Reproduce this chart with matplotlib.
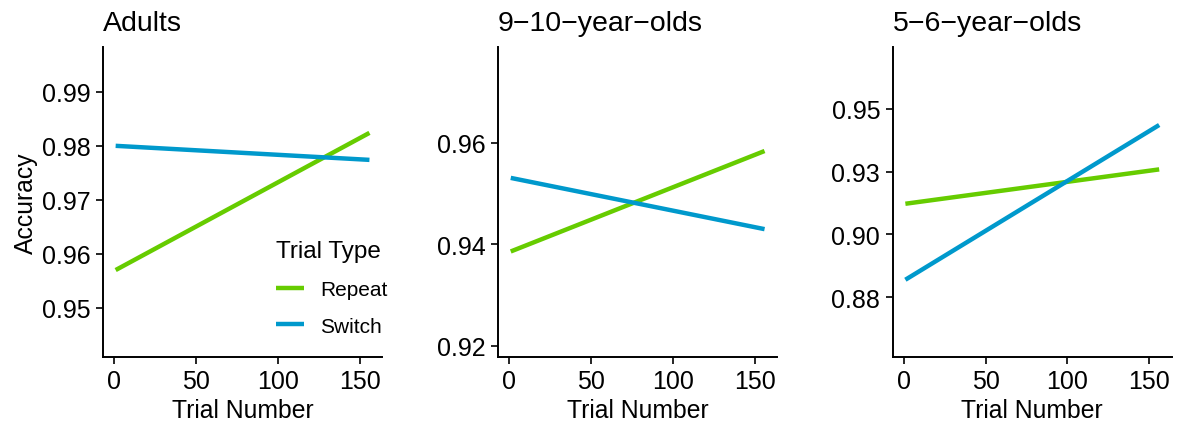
import numpy as np
import matplotlib
matplotlib.use("Agg")
import matplotlib.pyplot as plt

plt.rcParams['font.family'] = ['Liberation Sans', 'DejaVu Sans']

# fitted accuracy at the first and last trial, per age group
groups = ["Adults", "9\u221210\u2212year\u2212olds", "5\u22126\u2212year\u2212olds"]
trial_ends = [1, 156]
repeat_acc = [[0.9570, 0.9824], [0.9386, 0.9584], [0.9122, 0.9259]]
switch_acc = [[0.9800, 0.9774], [0.9531, 0.9430], [0.8819, 0.9436]]

y_limits = [(0.9409, 0.9983), (0.9178, 0.9789), (0.8511, 0.9747)]
y_ticks = [[0.95, 0.96, 0.97, 0.98, 0.99],
           [0.92, 0.94, 0.96],
           [0.875, 0.90, 0.925, 0.95]]
y_ticklabels = [["0.95", "0.96", "0.97", "0.98", "0.99"],
                ["0.92", "0.94", "0.96"],
                ["0.88", "0.90", "0.93", "0.95"]]
x_ticks = [0, 50, 100, 150]

green = "#66CC00"
blue = "#0099CC"

fig = plt.figure(figsize=(11.78, 4.27), dpi=100)
lefts = [0.0874, 0.4228, 0.7578]
width = 0.237
bottom, top = 0.1616, 0.8876

for i, name in enumerate(groups):
    ax = fig.add_axes([lefts[i], bottom, width, top - bottom])
    ax.plot(trial_ends, repeat_acc[i], color=green, lw=3.2, solid_capstyle='butt', label="Repeat")
    ax.plot(trial_ends, switch_acc[i], color=blue, lw=3.2, solid_capstyle='butt', label="Switch")

    span = trial_ends[1] - trial_ends[0]
    ax.set_xlim(trial_ends[0] - 0.05 * span, trial_ends[1] + 0.05 * span)
    ax.set_ylim(*y_limits[i])
    ax.set_xticks(x_ticks)
    ax.set_yticks(y_ticks[i])
    ax.set_yticklabels(y_ticklabels[i])

    for side in ("top", "right"):
        ax.spines[side].set_visible(False)
    for side in ("left", "bottom"):
        ax.spines[side].set_linewidth(1.4)
    ax.tick_params(length=5, width=1.2, labelsize=18, colors="black", pad=4)

    ax.set_title(name, loc="left", fontsize=20.5, pad=12)
    ax.set_xlabel("Trial Number", fontsize=17.8, labelpad=3)
    if i == 0:
        ax.set_ylabel("Accuracy", fontsize=17.8, labelpad=3)
        leg = ax.legend(title="Trial Type", loc="upper left", frameon=False,
                        fontsize=15, title_fontsize=17.5, handlelength=1.35,
                        handletextpad=0.8, labelspacing=0.85, borderpad=0,
                        bbox_to_anchor=(0.581, 0.41))
        leg._legend_box.align = "left"

fig.savefig("out.png", dpi=100)
